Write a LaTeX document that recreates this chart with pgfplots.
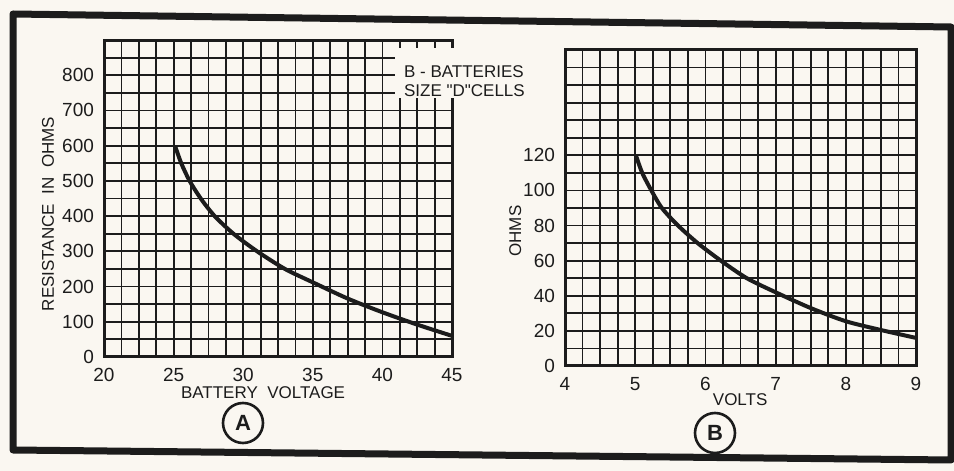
\documentclass[border=0pt]{standalone}
\usepackage{pgfplots}
\pgfplotsset{compat=1.18}
\usepackage{fontspec}
\setmainfont{Liberation Sans}
\newcommand\sq{\XeTeXglyph\XeTeXcharglyph"0022\relax}
\definecolor{paper}{HTML}{FAF7F1}
\definecolor{ink}{HTML}{1C1C1C}
\pgfplotsset{
  chartstyle/.style={
    scale only axis, anchor=south west,
    axis line style={ink, line width=1.5pt},
    grid=both,
    grid style={ink, line width=0.9pt},
    minor grid style={ink, line width=0.9pt},
    major tick length=0pt, minor tick length=0pt,
    tick label style={font=\fontsize{9.5}{9.5}\selectfont, text=ink},
    /pgf/number format/assume math mode=true,
    label style={font=\fontsize{8.5}{8.5}\selectfont, text=ink},
    xticklabel style={yshift=-2pt},
    yticklabel style={xshift=-1.5pt},
  }
}
\begin{document}
\begin{tikzpicture}
\useasboundingbox (0,0) rectangle (477pt,235.5pt);
\fill[paper] (0,0) rectangle (477pt,235.5pt);
\draw[ink, line width=3.5pt, line join=round] (6.5pt,228.5pt) -- (475.5pt,222pt) -- (475.5pt,5.5pt) -- (6.5pt,10.5pt) -- cycle;

\begin{axis}[chartstyle, at={(52pt,57pt)}, width=174pt, height=158.5pt,
  xmin=20, xmax=45, ymin=0, ymax=900,
  xtick={20,25,30,35,40,45},
  minor xtick={21.25,22.5,23.75,26.25,27.5,28.75,31.25,32.5,33.75,36.25,37.5,38.75,41.25,42.5,43.75},
  ytick={0,100,...,800}, minor ytick={50,150,...,850},
  xlabel={BATTERY\ \ VOLTAGE}, ylabel={RESISTANCE\ \ IN\ \ OHMS},
  xlabel style={at={(axis description cs:0.457,-0.114)}, anchor=center},
  ylabel style={at={(axis description cs:-0.161,0.451)}, anchor=center},
]
\addplot[ink, line width=2pt, smooth, tension=0.45] coordinates {
 (25.1,600) (25.55,550) (26.15,500) (26.95,450) (27.95,400) (29.3,350) (31.0,300)
 (33.0,250) (35.0,212) (37.5,166) (40.0,127) (42.5,92) (45.0,60)
};
\end{axis}

\fill[paper] (197.5pt,186.5pt) rectangle (262pt,211.5pt);
\node[font=\fontsize{8.5}{9.5}\selectfont, text=ink, align=left, anchor=west] at (198.5pt,195pt) {B - BATTERIES\\ SIZE \sq D\sq CELLS};

\begin{axis}[chartstyle, at={(282.5pt,52.5pt)}, width=175.5pt, height=158pt,
  xmin=4, xmax=9, ymin=0, ymax=180,
  xtick={4,5,6,7,8,9},
  minor xtick={4.25,4.5,4.75,5.25,5.5,5.75,6.25,6.5,6.75,7.25,7.5,7.75,8.25,8.5,8.75},
  ytick={0,20,...,120}, minor ytick={10,30,50,70,90,110,130,140,150,160,170},
  xlabel={VOLTS}, ylabel={OHMS},
  xlabel style={at={(axis description cs:0.499,-0.108)}, anchor=center},
  ylabel style={at={(axis description cs:-0.142,0.427)}, anchor=center},
]
\addplot[ink, line width=2pt, smooth, tension=0.45] coordinates {
 (5.01,120) (5.10,110) (5.23,100) (5.38,90) (5.61,80) (5.89,70) (6.22,60)
 (6.59,50) (7.0,42) (7.5,33) (8.0,25.5) (8.5,20.5) (9.0,16)
};
\end{axis}

\node[circle, draw=ink, line width=1.3pt, minimum size=20pt, inner sep=0pt, text=ink, font=\fontsize{11}{11}\selectfont\bfseries] at (121.5pt,24pt) {A};
\node[circle, draw=ink, line width=1.3pt, minimum size=20pt, inner sep=0pt, text=ink, font=\fontsize{11}{11}\selectfont\bfseries] at (357.5pt,19pt) {B};
\end{tikzpicture}
\end{document}
